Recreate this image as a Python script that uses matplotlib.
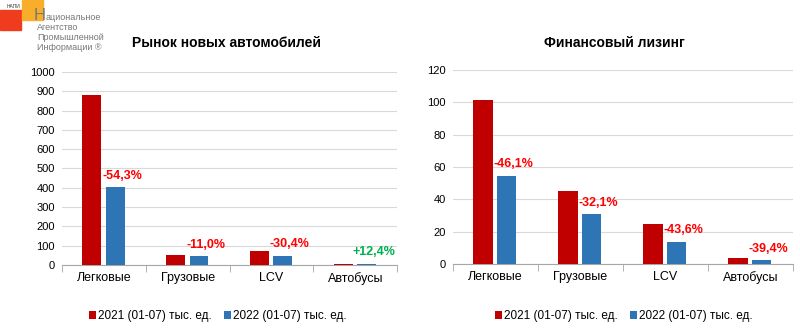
import numpy as np
import matplotlib

matplotlib.use("Agg")
import matplotlib.pyplot as plt
from matplotlib.patches import Rectangle

# данные
categories = ["Легковые", "Грузовые", "LCV", "Автобусы"]
market_2021 = [882, 52, 70, 6.5]
market_2022 = [403, 46, 49, 7.3]
market_change = ["-54,3%", "-11,0%", "-30,4%", "+12,4%"]
leasing_2021 = [101.5, 45.3, 24.6, 3.8]
leasing_2022 = [54.7, 30.8, 13.8, 2.3]
leasing_change = ["-46,1%", "-32,1%", "-43,6%", "-39,4%"]
series_names = ["2021 (01-07) тыс. ед.", "2022 (01-07) тыс. ед."]
logo_lines = ["Агентство", "Промышленной", "Информации ®"]

RED, BLUE = "#C00000", "#2E75B6"
UP, DOWN = "#00B050", "#FF0000"

plt.rcParams.update({"font.family": ["Liberation Sans", "DejaVu Sans"]})
fig = plt.figure(figsize=(8, 3.3), dpi=100)


def draw(rect, title, title_x, v21, v22, changes, ymax, ystep, legend_x):
    ax = fig.add_axes(rect)
    x = np.arange(len(categories))
    w = 0.225
    ax.bar(x - 0.145, v21, w, color=RED, label=series_names[0], zorder=3)
    ax.bar(x + 0.135, v22, w, color=BLUE, label=series_names[1], zorder=3)
    for xi, v, txt in zip(x, v22, changes):
        col = UP if txt.startswith("+") else DOWN
        ax.annotate(txt, (xi + 0.135, v), xytext=(5, 4), textcoords="offset points",
                    ha="center", va="bottom", color=col, fontsize=9,
                    fontweight="bold", zorder=4)
    ax.set_xlim(-0.5, len(categories) - 0.5)
    ax.set_ylim(0, ymax)
    ax.set_yticks(np.arange(0, ymax + ystep, ystep))
    ax.set_xticks(x)
    ax.set_xticklabels(categories, fontsize=9)
    ax.set_xticks(np.arange(-0.5, len(categories)), minor=True)
    ax.tick_params(axis="x", which="major", length=0, pad=5)
    ax.tick_params(axis="x", which="minor", length=5, color="#A6A6A6", direction="out")
    ax.tick_params(axis="y", length=0, labelsize=8, pad=5)
    ax.grid(axis="y", color="#D9D9D9", linewidth=0.8, zorder=0)
    for s in ["top", "right", "left"]:
        ax.spines[s].set_visible(False)
    ax.spines["bottom"].set_color("#A6A6A6")
    fig.text(title_x, 0.87, title, ha="center", va="center",
             fontsize=10, fontweight="bold")
    fig.legend(*ax.get_legend_handles_labels(), loc="center",
               bbox_to_anchor=(legend_x, 0.042), ncol=2, frameon=False,
               fontsize=8.5, handlelength=0.6, handleheight=0.6,
               handletextpad=0.2, columnspacing=1.0)
    return ax


draw([0.0775, 0.197, 0.419, 0.585], "Рынок новых автомобилей", 0.283,
     market_2021, market_2022, market_change, 1000, 100, 0.2725)
draw([0.566, 0.2, 0.425, 0.588], "Финансовый лизинг", 0.768,
     leasing_2021, leasing_2022, leasing_change, 120, 20, 0.78)

# логотип
fig.patches.append(Rectangle((0, 1 - 30 / 330), 21 / 800, 20 / 330,
                             transform=fig.transFigure, color="#F03C1E", zorder=1))
fig.patches.append(Rectangle((22 / 800, 1 - 20 / 330), 21 / 800, 20 / 330,
                             transform=fig.transFigure, color="#F8AE2A", zorder=1))
fig.text(7 / 800, 1 - 6 / 330, "НАПИ", fontsize=3.5, va="center", color="#333333")
fig.text(34 / 800, 1 - 20 / 330, "Н", fontsize=12, va="baseline", color="#777777",
         zorder=2)
fig.text(46 / 800, 1 - 20 / 330, "ациональное", fontsize=6.5, va="baseline",
         color="#777777")
for i, line in enumerate(logo_lines):
    fig.text(37 / 800, 1 - (30 + 10 * i) / 330, line, fontsize=6.5,
             color="#777777", va="baseline")

fig.savefig("out.png", dpi=100)
